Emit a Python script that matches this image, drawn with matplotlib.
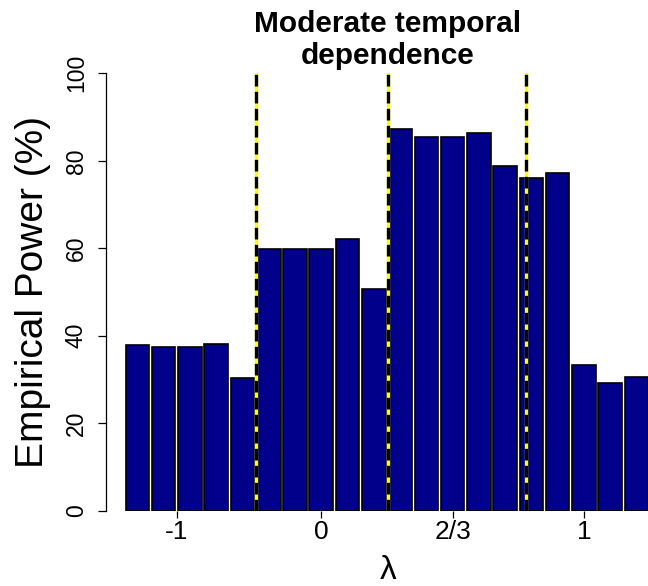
import matplotlib
matplotlib.use('Agg')
import matplotlib.pyplot as plt
import numpy as np

plt.rcParams['font.family'] = ['Liberation Sans', 'DejaVu Sans']

# Data
power = [37.9, 37.5, 37.5, 38.2, 30.3,
         59.8, 59.8, 59.8, 62.1, 50.6,
         87.3, 85.4, 85.4, 86.4, 78.7,
         76.1, 77.3, 33.3, 29.3, 30.5]
tick_labels = ['-1', '0', '2/3', '1']
tick_pos = [1.5, 7, 12, 17]
divider_pos = [4.5, 9.55, 14.78]
y_ticks = [0, 20, 40, 60, 80, 100]

W, H = 648, 586
fig = plt.figure(figsize=(W / 100, H / 100), dpi=100)
ax = fig.add_axes([106 / W, (H - 510.7) / H, (W - 106) / W, 437.4 / H])

x = np.arange(len(power))
ax.bar(x, power, width=0.9, color='#00008B', edgecolor='black',
       linewidth=1.2, zorder=2)
for d in divider_pos:
    ax.axvline(d, color='#FFFF00', lw=2.4, zorder=3)
    ax.axvline(d, color='black', lw=2.4, linestyle=(0, (3.5, 1.6)), zorder=4)

ax.set_xlim(-1.196, 19.44)
ax.set_ylim(0, 100)

for s in ['top', 'right', 'bottom']:
    ax.spines[s].set_visible(False)
ax.spines['left'].set_linewidth(0.9)

ax.set_yticks(y_ticks)
ax.set_yticklabels([str(v) for v in y_ticks])
ax.tick_params(axis='y', length=6, width=0.9, pad=7, labelsize=16.5)
for lab in ax.get_yticklabels():
    lab.set_rotation(90)
    lab.set_va('center')
    lab.set_ha('right')

ax.set_xticks(tick_pos)
ax.set_xticklabels(tick_labels)
ax.tick_params(axis='x', length=5, width=0.9, pad=2, labelsize=19)

fig.text(387.5 / W, 1 - 40 / H, 'Moderate temporal\ndependence',
         ha='center', va='center', fontsize=21.5, fontweight='bold',
         linespacing=1.22)
fig.text(33 / W, 1 - 292 / H, 'Empirical Power (%)', rotation=90,
         ha='center', va='center', fontsize=28)
fig.text(388 / W, (H - 579) / H, 'λ', ha='center', va='baseline', fontsize=24)

fig.savefig('out.png', dpi=100)
